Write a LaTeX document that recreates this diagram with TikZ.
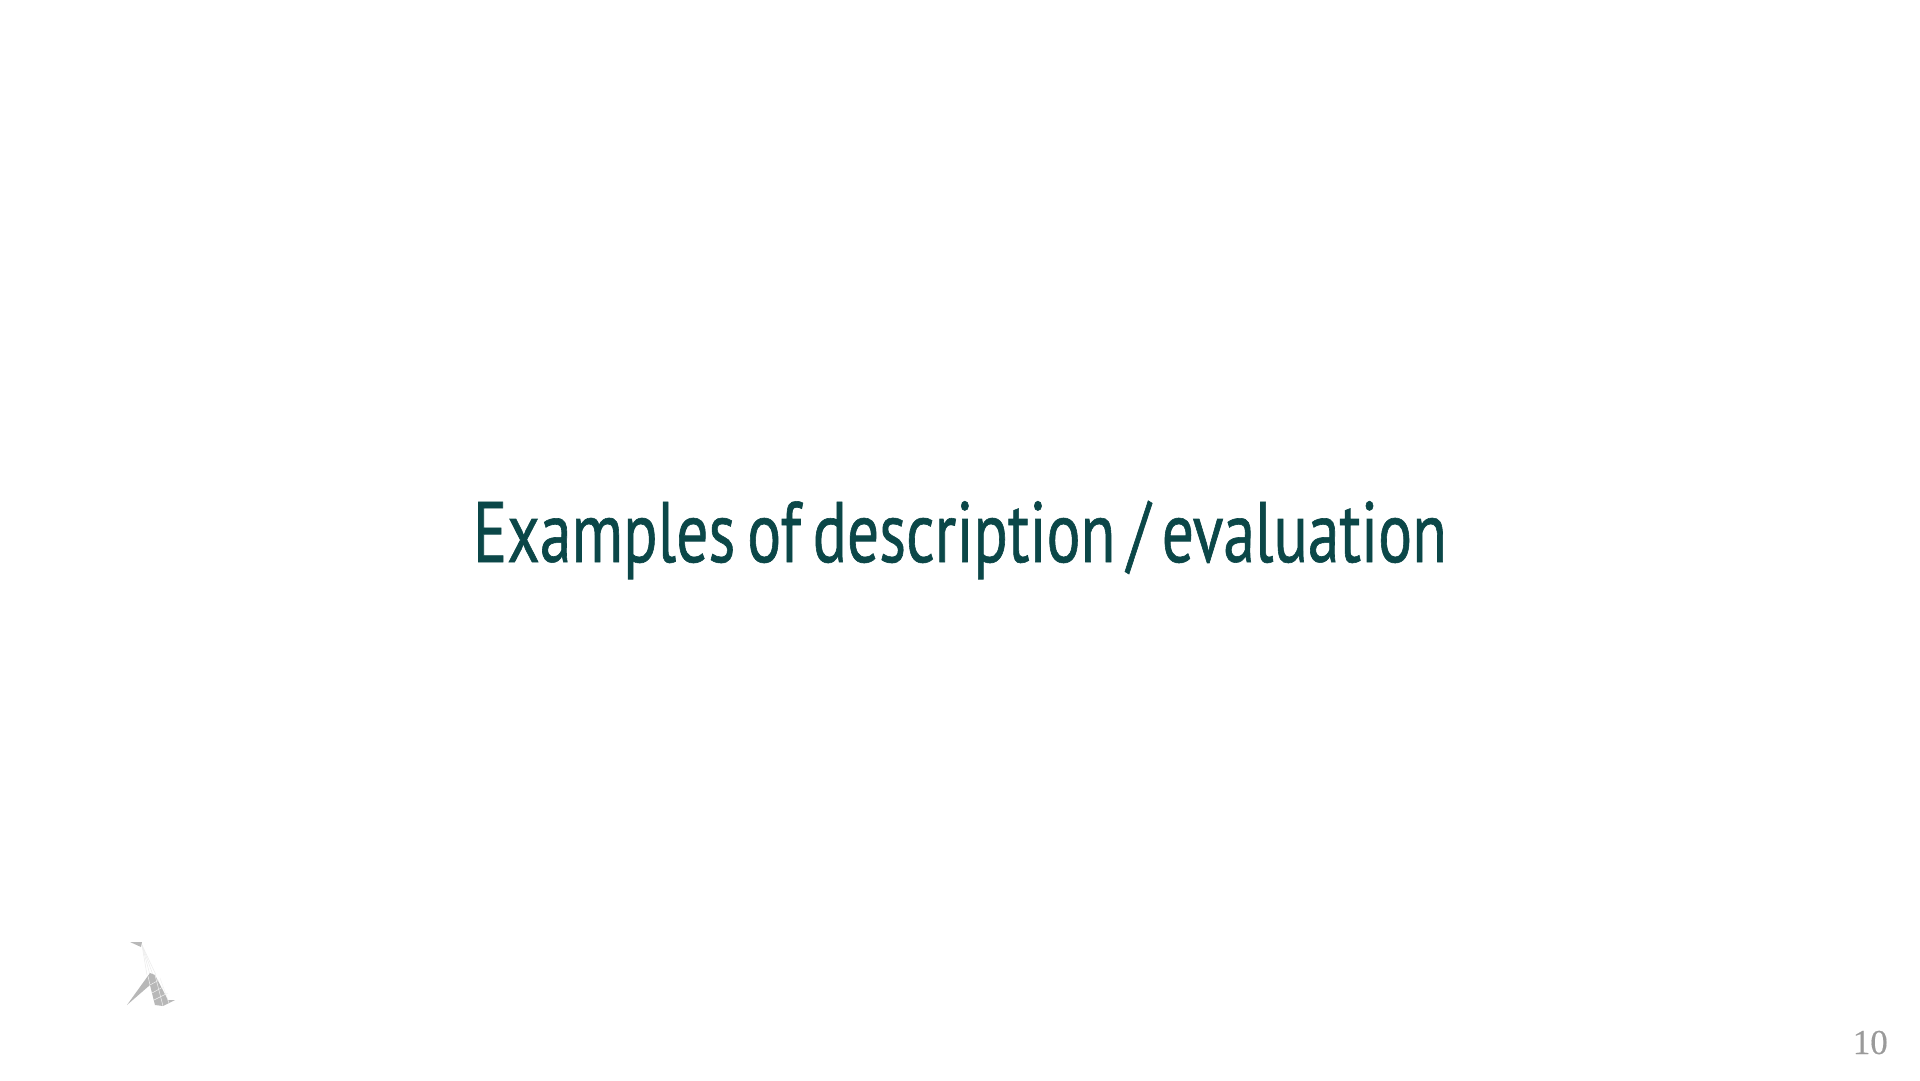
\documentclass[tikz,border=0pt]{standalone}
\usepackage{fontspec}
\newfontfamily\titlefont[FakeStretch=0.74,FakeBold=0.7,WordSpace=0.7]{PT Sans}
\setmainfont[FakeBold=0.3]{Liberation Serif}
\definecolor{titlecolor}{HTML}{0B4748}
\definecolor{pagecolor}{HTML}{9A9A9A}
\definecolor{logocolor}{HTML}{B8B8B8}
\definecolor{threadcolor}{HTML}{EDEDED}

\tikzset{
		title/.style  = {inner sep=0pt, anchor=base, text=titlecolor, font=\titlefont\fontsize{86}{90}\selectfont},
		pagenum/.style = {inner sep=0pt, anchor=base east, text=pagecolor, font=\fontsize{35}{40}\selectfont},
		logo part/.style = {fill=logocolor, draw=none},
		logo thread/.style = {draw=threadcolor, line width=0.6pt},
		logo grid/.style = {draw=white!80!logocolor, line width=0.5pt}
	}

\begin{document}
\begin{tikzpicture}[x=1pt,y=-1pt]
		\useasboundingbox (0,0) rectangle (1920,1080);
		
		% heading and page number
		\node[title] (heading) at (960,562) {Examples of description / evaluation};
		\node[pagenum] (pageno) at (1888,1054) {10};
		
		% logo, the small piece at the top
		\fill[logo part] (130,942) -- (142,942) -- (141,947) -- cycle;
		
		% threads down to the body
		\foreach \value in {147,150,153,156}
		\draw[logo thread] (142,945) -- (\value,975);
		
		% logo, the body
		\fill[logo part] (127,1005) -- (150,973) -- (155,975) -- (168,1000) -- (175,1000) -- (163,1006) -- (155,1005) -- (150,985) -- cycle;
		
		% grid lines over the body
		\draw[logo grid] (148,976) -- (150,985);
		\draw[logo grid] (150,985) -- (159,980);
		\draw[logo grid] (152,993) -- (163,987);
		\draw[logo grid] (154,1000) -- (168,993);
		\draw[logo grid] (155,975) -- (163,1006);
		\draw[logo grid] (160,978) -- (169,1003);
	\end{tikzpicture}
\end{document}
